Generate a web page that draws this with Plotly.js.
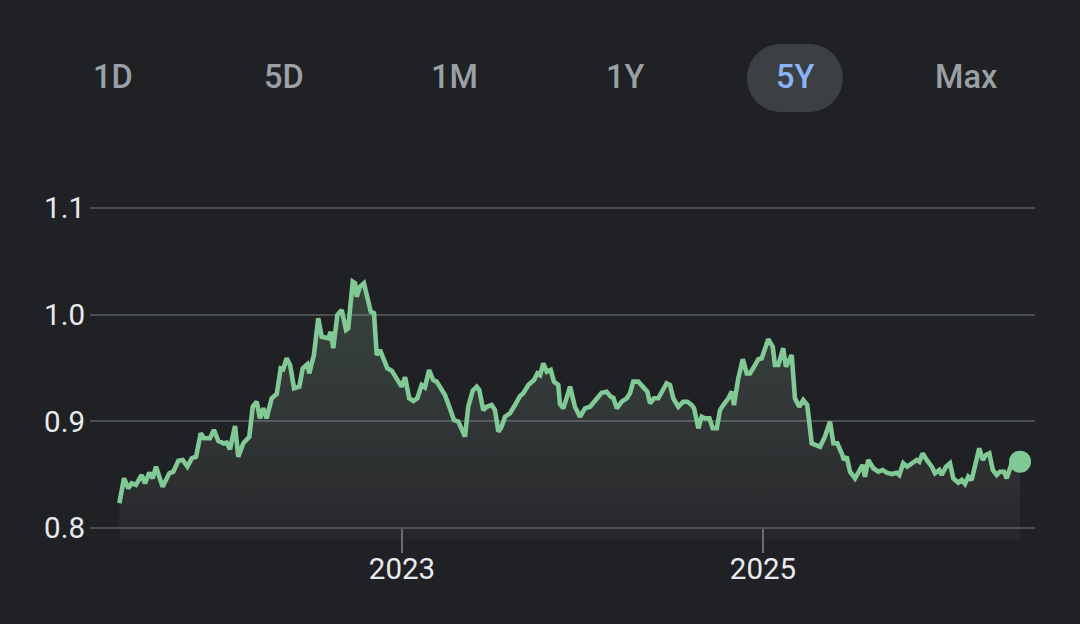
<!DOCTYPE html>
<html>
<head>
<meta charset="utf-8">
<script src="https://cdn.plot.ly/plotly-3.0.1.min.js"></script>
<style>
html,body{margin:0;padding:0;background:#202124;}
#chart{width:1080px;height:624px;}
</style>
</head>
<body>
<div id="chart"></div>
<script>
// Range selector labels
const rangeLabels = ['1D','5D','1M','1Y','5Y','Max'];
const selectedRange = '5Y';

// Axis ticks
const yTickVals = [0.8, 0.9, 1.0, 1.1];
const yTickText = ['0.8', '0.9', '1.0', '1.1'];
const xTickVals = [2023, 2025];
const xTickText = ['2023', '2025'];

// Time (decimal years)
const dates = [
2021.434,2021.460,2021.484,2021.502,2021.526,2021.558,2021.576,2021.600,2021.619,2021.637,
2021.674,2021.711,2021.733,2021.761,2021.785,2021.811,2021.835,2021.859,2021.885,2021.903,
2021.936,2021.958,2021.982,2022.010,2022.029,2022.047,2022.075,2022.093,2022.121,2022.154,
2022.173,2022.195,2022.213,2022.232,2022.250,2022.278,2022.306,2022.328,2022.342,2022.361,
2022.380,2022.402,2022.431,2022.450,2022.475,2022.486,2022.512,2022.536,2022.555,2022.592,
2022.605,2022.619,2022.642,2022.666,2022.690,2022.702,2022.727,2022.740,2022.749,2022.767,
2022.789,2022.813,2022.827,2022.845,2022.860,2022.878,2022.896,2022.919,2022.943,2022.971,
2022.998,2023.017,2023.040,2023.063,2023.085,2023.109,2023.127,2023.150,2023.173,2023.192,
2023.220,2023.238,2023.262,2023.288,2023.312,2023.331,2023.349,2023.367,2023.392,2023.414,
2023.428,2023.450,2023.469,2023.497,2023.515,2023.534,2023.552,2023.571,2023.598,2023.626,
2023.654,2023.672,2023.700,2023.731,2023.750,2023.765,2023.783,2023.802,2023.824,2023.842,
2023.866,2023.875,2023.894,2023.931,2023.958,2023.986,2024.014,2024.042,2024.079,2024.106,
2024.134,2024.156,2024.171,2024.190,2024.217,2024.245,2024.263,2024.281,2024.309,2024.337,
2024.359,2024.374,2024.396,2024.420,2024.448,2024.466,2024.485,2024.503,2024.531,2024.558,
2024.581,2024.605,2024.618,2024.642,2024.660,2024.679,2024.703,2024.721,2024.744,2024.762,
2024.780,2024.808,2024.827,2024.839,2024.863,2024.888,2024.910,2024.928,2024.956,2024.974,
2024.993,2025.029,2025.054,2025.066,2025.085,2025.104,2025.112,2025.127,2025.150,2025.159,
2025.177,2025.201,2025.223,2025.245,2025.270,2025.298,2025.316,2025.343,2025.371,2025.390,
2025.412,2025.436,2025.449,2025.464,2025.482,2025.510,2025.528,2025.552,2025.565,2025.583,
2025.611,2025.639,2025.663,2025.685,2025.713,2025.741,2025.755,2025.777,2025.799,2025.824,
2025.852,2025.866,2025.885,2025.907,2025.935,2025.953,2025.977,2025.990,2026.014,2026.036,
2026.054,2026.082,2026.101,2026.119,2026.137,2026.156,2026.175,2026.198,2026.217,2026.235,
2026.254,2026.273,2026.295,2026.313,2026.335,2026.350,2026.378,2026.424
];

// Price values
const prices = [
0.8232,0.8466,0.8372,0.8419,0.8403,0.8497,0.8419,0.8518,0.8466,0.8575,
0.8387,0.8513,0.8528,0.8631,0.8638,0.8575,0.8653,0.8668,0.8888,0.8841,
0.8841,0.8919,0.8818,0.8794,0.8800,0.8738,0.8956,0.8668,0.8794,0.8856,
0.9137,0.9184,0.9028,0.9122,0.9028,0.9216,0.9256,0.9497,0.9488,0.9591,
0.9528,0.9310,0.9325,0.9497,0.9535,0.9450,0.9622,0.9966,0.9793,0.9778,
0.9840,0.9685,0.9997,1.0044,0.9856,0.9872,1.0309,1.0294,1.0168,1.0262,
1.0294,1.0122,1.0028,1.0013,0.9622,0.9669,0.9600,0.9497,0.9475,0.9403,
0.9325,0.9413,0.9216,0.9191,0.9216,0.9341,0.9319,0.9481,0.9387,0.9372,
0.9287,0.9247,0.9137,0.9012,0.8997,0.8935,0.8856,0.9137,0.9287,0.9325,
0.9294,0.9106,0.9137,0.9153,0.9106,0.8903,0.8950,0.9043,0.9075,0.9153,
0.9237,0.9263,0.9341,0.9387,0.9450,0.9434,0.9544,0.9465,0.9481,0.9372,
0.9341,0.9162,0.9122,0.9325,0.9137,0.9043,0.9122,0.9137,0.9216,0.9268,
0.9278,0.9231,0.9219,0.9122,0.9184,0.9216,0.9263,0.9372,0.9372,0.9310,
0.9278,0.9169,0.9216,0.9216,0.9310,0.9357,0.9341,0.9216,0.9137,0.9184,
0.9184,0.9153,0.9122,0.8935,0.9043,0.9028,0.9028,0.8935,0.8935,0.9106,
0.9153,0.9216,0.9278,0.9153,0.9403,0.9582,0.9450,0.9450,0.9528,0.9582,
0.9591,0.9769,0.9700,0.9528,0.9528,0.9653,0.9685,0.9512,0.9591,0.9622,
0.9216,0.9137,0.9200,0.9153,0.8794,0.8778,0.8762,0.8856,0.8997,0.8794,
0.8794,0.8700,0.8638,0.8668,0.8528,0.8466,0.8528,0.8591,0.8481,0.8638,
0.8560,0.8528,0.8544,0.8518,0.8506,0.8518,0.8497,0.8607,0.8575,0.8600,
0.8638,0.8622,0.8700,0.8638,0.8575,0.8513,0.8544,0.8497,0.8575,0.8607,
0.8466,0.8425,0.8450,0.8413,0.8481,0.8450,0.8607,0.8747,0.8638,0.8684,
0.8700,0.8544,0.8497,0.8528,0.8528,0.8466,0.8607,0.8622
];

const GREEN = '#81c995';
const BG = '#202124';

// Plot geometry in pixels
const W = 1080, H = 624;
const M = {l: 90, r: 45, t: 197, b: 84};
const plotW = W - M.l - M.r, plotH = H - M.t - M.b;
const pxPerYear = 180.5;
const pxPerUnit = 1066.7;
const xMin = 2023 - (402 - M.l) / pxPerYear;
const xMax = xMin + plotW / pxPerYear;
const yMin = 0.8 - 12 / pxPerUnit;
const yMax = yMin + plotH / pxPerUnit;
const px2paperX = p => (p - M.l) / plotW;
const px2paperY = p => (H - M.b - p) / plotH;

const traces = [
  {
    x: dates, y: prices, type: 'scatter', mode: 'lines',
    line: {color: GREEN, width: 4.6, shape: 'linear'},
    fill: 'tozeroy',
    fillgradient: {
      type: 'vertical',
      start: yMin, stop: 1.03,
      colorscale: [[0, 'rgba(255,255,255,0.025)'], [1, 'rgba(129,201,149,0.2)']]
    },
    hoverinfo: 'skip'
  },
  {
    x: [dates[dates.length - 1]], y: [prices[prices.length - 1]],
    type: 'scatter', mode: 'markers',
    marker: {color: GREEN, size: 22},
    hoverinfo: 'skip'
  }
];

// Range selector annotations
const annotations = rangeLabels.map((lab, i) => ({
  text: lab,
  xref: 'paper', yref: 'paper',
  x: px2paperX(113 + i * 170.6), y: px2paperY(77),
  xanchor: 'center', yanchor: 'middle',
  showarrow: false,
  font: {family: 'Roboto, sans-serif', size: 32.5, weight: 500,
         color: lab === selectedRange ? '#8ab4f8' : '#9aa0a6'}
}));

const selIdx = rangeLabels.indexOf(selectedRange);
const pill = {
  type: 'path', xref: 'paper', yref: 'paper',
  xsizemode: 'pixel', ysizemode: 'pixel',
  xanchor: px2paperX(113 + selIdx * 170.6 - 0.5), yanchor: px2paperY(78),
  path: 'M -14,-34 L 14,-34 C 32.8,-34 48,-18.8 48,0 C 48,18.8 32.8,34 14,34 L -14,34 C -32.8,34 -48,18.8 -48,0 C -48,-18.8 -32.8,-34 -14,-34 Z',
  fillcolor: '#3c4043', line: {width: 0}, layer: 'below'
};

const layout = {
  width: W, height: H,
  margin: M,
  paper_bgcolor: BG, plot_bgcolor: BG,
  showlegend: false,
  font: {family: 'Roboto, sans-serif', color: '#e8eaed'},
  xaxis: {
    range: [xMin, xMax],
    anchor: 'free', position: (0.8 - yMin) / (yMax - yMin),
    tickvals: xTickVals, ticktext: xTickText,
    ticks: 'outside', ticklen: 24, tickwidth: 2.5, tickcolor: '#6a6e72',
    ticklabelstandoff: -9,
    tickfont: {size: 29.5, color: '#e8eaed'},
    showgrid: false, zeroline: false, showline: false,
    fixedrange: true
  },
  yaxis: {
    range: [yMin, yMax],
    tickvals: yTickVals, ticktext: yTickText,
    ticks: '', ticklabelstandoff: 4,
    tickfont: {size: 29.5, color: '#e8eaed'},
    showgrid: true, gridcolor: '#4a4d51', gridwidth: 2,
    zeroline: false, showline: false,
    fixedrange: true
  },
  annotations: annotations,
  shapes: [pill]
};

Plotly.newPlot('chart', traces, layout, {displayModeBar: false, staticPlot: true});
</script>
</body>
</html>
